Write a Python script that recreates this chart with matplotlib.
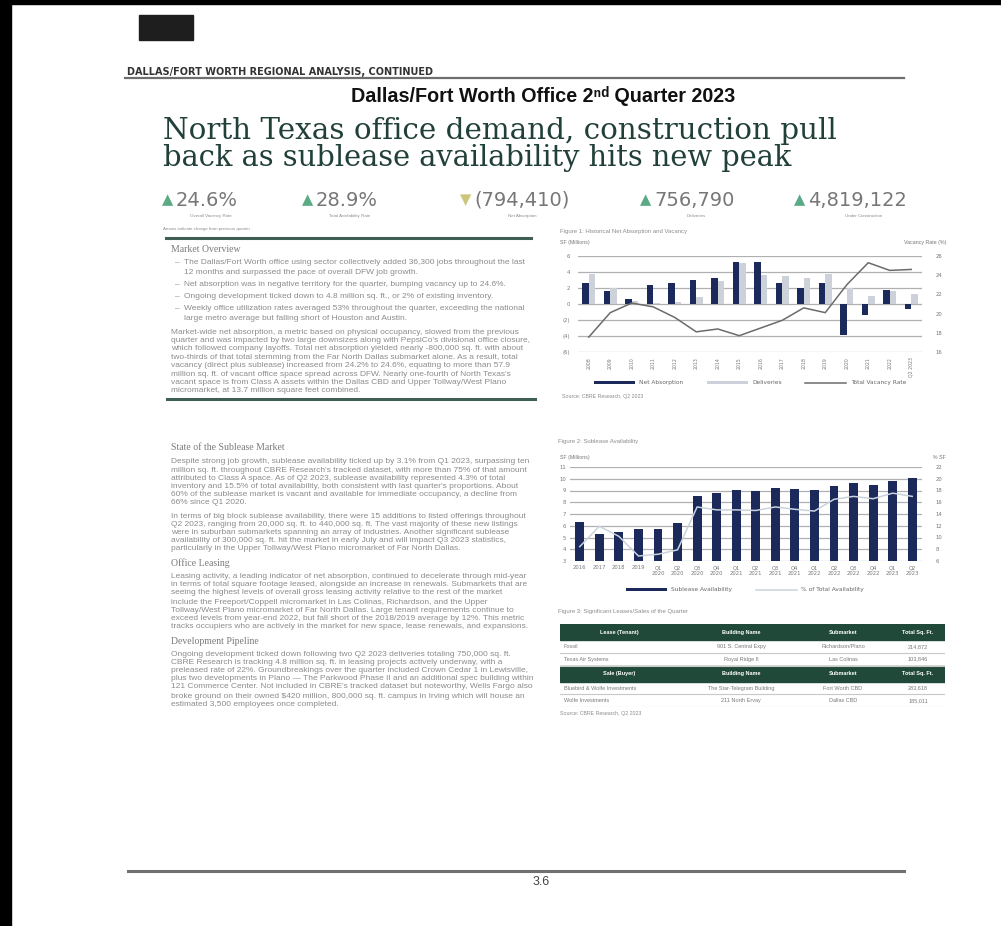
import matplotlib
matplotlib.use("Agg")
import matplotlib.pyplot as plt
from matplotlib.patches import Rectangle
from matplotlib.lines import Line2D
import numpy as np

W, H = 1001, 926

# ---- data ----
kpi_values = ["24.6%", "28.9%", "(794,410)", "756,790", "4,819,122"]
kpi_labels = ["Overall Vacancy Rate", "Total Availability Rate", "Net Absorption",
              "Deliveries", "Under Construction"]
kpi_up = [True, True, False, True, True]

fig1_years = ["2008", "2009", "2010", "2011", "2012", "2013", "2014", "2015",
              "2016", "2017", "2018", "2019", "2020", "2021", "2022", "Q2 2023"]
net_absorption = [2.6, 1.65, 0.6, 2.35, 2.65, 3.0, 3.2, 5.2,
                  5.2, 2.6, 1.95, 2.65, -3.9, -1.35, 1.7, -0.6]
deliveries = [3.8, 1.95, 0.4, 0.1, 0.3, 0.9, 2.85, 5.1,
              3.6, 3.5, 3.25, 3.7, 1.95, 1.05, 1.65, 1.2]
vacancy_rate = [17.55, 20.1, 21.1, 20.7, 19.6, 18.1, 18.4, 17.7,
                18.5, 19.3, 20.6, 20.1, 23.0, 25.3, 24.5, 24.6]

fig2_periods = ["2016", "2017", "2018", "2019", "Q1\n2020", "Q2\n2020", "Q3\n2020",
                "Q4\n2020", "Q1\n2021", "Q2\n2021", "Q3\n2021", "Q4\n2021", "Q1\n2022",
                "Q2\n2022", "Q3\n2022", "Q4\n2022", "Q1\n2023", "Q2\n2023"]
sublease_sf = [6.3, 5.3, 5.45, 5.7, 5.75, 6.2, 8.5, 8.8, 9.05,
               9.0, 9.2, 9.1, 9.05, 9.4, 9.65, 9.5, 9.85, 10.05]
sublease_pct = [8.45, 11.9, 10.2, 6.85, 7.15, 7.9, 15.2, 14.7, 14.7,
                14.6, 15.2, 14.8, 14.5, 16.5, 17.0, 16.6, 17.55, 17.0]

table_cols_lease = ["Lease (Tenant)", "Building Name", "Submarket", "Total Sq. Ft."]
table_cols_sale = ["Sale (Buyer)", "Building Name", "Submarket", "Total Sq. Ft."]
lease_rows = [["Fossil", "901 S. Central Expy", "Richardson/Plano", "214,872"],
              ["Texas Air Systems", "Royal Ridge II", "Las Colinas", "103,846"]]
sale_rows = [["Bluebird & Wolfe Investments", "The Star-Telegram Building", "Fort Worth CBD", "283,618"],
             ["Wolfe Investments", "211 North Ervay", "Dallas CBD", "185,011"]]

market_bullets = [
    ["The Dallas/Fort Worth office using sector collectively added 36,300 jobs throughout the last",
     "12 months and surpassed the pace of overall DFW job growth."],
    ["Net absorption was in negative territory for the quarter, bumping vacancy up to 24.6%."],
    ["Ongoing development ticked down to 4.8 million sq. ft., or 2% of existing inventory."],
    ["Weekly office utilization rates averaged 53% throughout the quarter, exceeding the national",
     "large metro average but falling short of Houston and Austin."],
]
market_para = [
    "Market-wide net absorption, a metric based on physical occupancy, slowed from the previous",
    "quarter and was impacted by two large downsizes along with PepsiCo's divisional office closure,",
    "which followed company layoffs. Total net absorption yielded nearly -800,000 sq. ft. with about",
    "two-thirds of that total stemming from the Far North Dallas submarket alone. As a result, total",
    "vacancy (direct plus sublease) increased from 24.2% to 24.6%, equating to more than 57.9",
    "million sq. ft. of vacant office space spread across DFW. Nearly one-fourth of North Texas's",
    "vacant space is from Class A assets within the Dallas CBD and Upper Tollway/West Plano",
    "micromarket, at 13.7 million square feet combined.",
]
sections = [
    ("State of the Sublease Market", 448, [
        ("Despite strong job growth, sublease availability ticked up by 3.1% from Q1 2023, surpassing ten", 462),
        ("million sq. ft. throughout CBRE Research's tracked dataset, with more than 75% of that amount", 470),
        ("attributed to Class A space. As of Q2 2023, sublease availability represented 4.3% of total", 478),
        ("inventory and 15.5% of total availability, both consistent with last quarter's proportions. About", 486),
        ("60% of the sublease market is vacant and available for immediate occupancy, a decline from", 494),
        ("66% since Q1 2020.", 502),
        ("In terms of big block sublease availability, there were 15 additions to listed offerings throughout", 516),
        ("Q2 2023, ranging from 20,000 sq. ft. to 440,000 sq. ft. The vast majority of these new listings", 524),
        ("were in suburban submarkets spanning an array of industries. Another significant sublease", 532),
        ("availability of 300,000 sq. ft. hit the market in early July and will impact Q3 2023 statistics,", 540),
        ("particularly in the Upper Tollway/West Plano micromarket of Far North Dallas.", 548)]),
    ("Office Leasing", 563, [
        ("Leasing activity, a leading indicator of net absorption, continued to decelerate through mid-year", 577),
        ("in terms of total square footage leased, alongside an increase in renewals. Submarkets that are", 585),
        ("seeing the highest levels of overall gross leasing activity relative to the rest of the market", 593),
        ("include the Freeport/Coppell micromarket in Las Colinas, Richardson, and the Upper", 602),
        ("Tollway/West Plano micromarket of Far North Dallas. Large tenant requirements continue to", 610),
        ("exceed levels from year-end 2022, but fall short of the 2018/2019 average by 12%. This metric", 618),
        ("tracks occupiers who are actively in the market for new space, lease renewals, and expansions.", 627)]),
    ("Development Pipeline", 641, [
        ("Ongoing development ticked down following two Q2 2023 deliveries totaling 750,000 sq. ft.", 655),
        ("CBRE Research is tracking 4.8 million sq. ft. in leasing projects actively underway, with a", 663),
        ("preleased rate of 22%. Groundbreakings over the quarter included Crown Cedar 1 in Lewisville,", 671),
        ("plus two developments in Plano \u2014 The Parkwood Phase II and an additional spec building within", 679),
        ("121 Commerce Center. Not included in CBRE's tracked dataset but noteworthy, Wells Fargo also", 687),
        ("broke ground on their owned $420 million, 800,000 sq. ft. campus in Irving which will house an", 696),
        ("estimated 3,500 employees once completed.", 704)]),
]

NAVY = "#1b2a5a"
LIGHT = "#cdd2da"
GREEN = "#21493a"
TXT = "#8c8c8c"
BODY = "Liberation Sans"

fig = plt.figure(figsize=(W / 100, H / 100), dpi=100)
fig.patch.set_facecolor("white")
renderer = fig.canvas.get_renderer()


def fx(x):
    return x / W


def fy(y):
    return 1 - y / H


def txt(x, y, s, **kw):
    kw.setdefault("va", "center")
    return fig.text(fx(x), fy(y), s, **kw)


def fit(t, width):
    w = t.get_window_extent(renderer=renderer).width
    t.set_fontsize(t.get_fontsize() * width / w)
    return t.get_fontsize()


def hline(x0, x1, y, color, lw):
    fig.add_artist(Line2D([fx(x0), fx(x1)], [fy(y), fy(y)], color=color, lw=lw,
                          transform=fig.transFigure))


# page frame: black scan edges and the redaction box
fig.add_artist(Rectangle((0, 0), fx(11), 1, color="black", transform=fig.transFigure))
fig.add_artist(Rectangle((0, fy(4)), 1, 4 / H, color="black", transform=fig.transFigure))
fig.add_artist(Rectangle((fx(139), fy(40)), 54 / W, 25 / H, color="#1e1e1e",
                         transform=fig.transFigure))

# header
t = txt(127, 72, "DALLAS/FORT WORTH REGIONAL ANALYSIS, CONTINUED", fontsize=5.3,
        fontweight="bold", color="#333333", family="DejaVu Sans")
fit(t, 305)
hline(125, 904, 78, "#6e6e6e", 1.6)
t = txt(543, 96, "Dallas/Fort Worth Office 2\u207f\u1d48 Quarter 2023", fontsize=11,
        fontweight="bold", ha="center", color="#111111", family=["Liberation Sans", "DejaVu Sans"])
fit(t, 385)
t = txt(163, 131, "North Texas office demand, construction pull", fontsize=20,
        color="#22403a", family="DejaVu Serif")
fit(t, 672)
t = txt(163, 158, "back as sublease availability hits new peak", fontsize=20,
        color="#22403a", family="DejaVu Serif")
fit(t, 627)

# KPI row
kpi_x = [168, 308, 466, 646, 800]
kpi_w = [70, 67, 96, 84, 112]
for x, w, v, lab, up in zip(kpi_x, kpi_w, kpi_values, kpi_labels, kpi_up):
    txt(x, 200, "\u25B2" if up else "\u25BC", fontsize=10.5, ha="center",
        color="#5aaa86" if up else "#cbc67a", family="DejaVu Sans")
    txt(x + 8, 200, v, fontsize=14, color="#777777", family="DejaVu Sans")
    txt(x + 8 + w / 2, 216, lab, fontsize=3.2, ha="center", color=TXT, family=BODY)

# left text column
txt(163, 229, "Arrows indicate change from previous quarter", fontsize=3.2, color=TXT, family=BODY)
hline(166, 531, 238, "#3f5f52", 2.2)
txt(171, 250, "Market Overview", fontsize=7, color="#7a7a7a", family="Liberation Serif")

# body font size fitted so a full line spans the column
probe = txt(171, 332, market_para[0], fontsize=5, color=TXT, family=BODY)
body_fs = fit(probe, 350)
for i, line in enumerate(market_para[1:], start=1):
    txt(171, 332 + i * 8.4, line, fontsize=body_fs, color=TXT, family=BODY)
y = 263
for b in market_bullets:
    txt(175, y, "\u2013", fontsize=body_fs, color=TXT, family=BODY)
    for line in b:
        txt(184, y, line, fontsize=body_fs, color=TXT, family=BODY)
        y += 9.5
    y += 2.5
hline(167, 535, 399, "#3f5f52", 2.2)

for head, hy, lines in sections:
    txt(171, hy, head, fontsize=7, color="#7a7a7a", family="Liberation Serif")
    for line, ly in lines:
        txt(171, ly, line, fontsize=body_fs, color=TXT, family=BODY)

# ---- Figure 1 ----
txt(560, 232, "Figure 1: Historical Net Absorption and Vacancy", fontsize=4.3, color=TXT, family=BODY)
txt(560, 243, "SF (Millions)", fontsize=3.8, color="#777777", family=BODY)
txt(946, 243, "Vacancy Rate (%)", fontsize=3.8, color="#777777", ha="right", family=BODY)

ax1 = fig.add_axes([fx(578), fy(352), 344 / W, 96 / H])
x1 = np.arange(len(fig1_years))
bw = 0.3
ax1.bar(x1 - bw / 2, net_absorption, bw, color=NAVY, zorder=3, label="Net Absorption")
ax1.bar(x1 + bw / 2, deliveries, bw, color=LIGHT, zorder=3, label="Deliveries")
ax1.set_xlim(-0.5, len(fig1_years) - 0.5)
ax1.set_ylim(-6, 6)
ax1.set_yticks([6, 4, 2, 0, -2, -4, -6])
ax1.set_yticklabels(["6", "4", "2", "0", "(2)", "(4)", "(6)"])
ax1.set_xticks(x1)
ax1.set_xticklabels(fig1_years, rotation=90)
ax1.grid(axis="y", color="#b0b0b0", lw=0.9, zorder=0)
ax1.tick_params(axis="y", length=0, labelsize=3.8, labelcolor="#777777", pad=6)
ax1.tick_params(axis="x", length=0, labelsize=3.3, labelcolor="#777777", pad=4)
for s in ax1.spines.values():
    s.set_visible(False)
ax1b = ax1.twinx()
ax1b.plot(x1, vacancy_rate, color="#6b6b6b", lw=1.1, zorder=4, label="Total Vacancy Rate")
ax1b.set_ylim(16, 26)
ax1b.set_yticks([26, 24, 22, 20, 18, 16])
ax1b.tick_params(length=0, labelsize=3.8, labelcolor="#777777", pad=10)
for s in ax1b.spines.values():
    s.set_visible(False)
h1 = ax1.get_legend_handles_labels()
h2 = ax1b.get_legend_handles_labels()
fig.legend(h1[0] + h2[0], h1[1] + h2[1], loc="center", bbox_to_anchor=(fx(750), fy(383)),
           ncol=3, frameon=False, fontsize=4.2, handlelength=7, handleheight=0.5,
           columnspacing=4, labelcolor="#666666")
txt(562, 396, "Source: CBRE Research, Q2 2023", fontsize=3.8, color=TXT, family=BODY)

# ---- Figure 2 ----
txt(558, 441, "Figure 2: Sublease Availability", fontsize=4.3, color=TXT, family=BODY)
txt(560, 457, "SF (Millions)", fontsize=3.8, color="#777777", family=BODY)
txt(946, 457, "% SF", fontsize=3.8, color="#777777", ha="right", family=BODY)
ax2 = fig.add_axes([fx(570), fy(561), 352 / W, 94 / H])
x2 = np.arange(len(fig2_periods))
ax2.bar(x2, sublease_sf, 0.45, color=NAVY, zorder=3, label="Sublease Availability")
ax2.set_xlim(-0.5, len(fig2_periods) - 0.5)
ax2.set_ylim(3, 11)
ax2.set_yticks(range(3, 12))
ax2.set_xticks(x2)
ax2.set_xticklabels(fig2_periods, linespacing=1.1)
ax2.grid(axis="y", color="#b0b0b0", lw=0.9, zorder=0)
ax2.tick_params(length=0, labelsize=3.8, labelcolor="#777777", pad=3)
for s in ax2.spines.values():
    s.set_visible(False)
ax2b = ax2.twinx()
ax2b.plot(x2, sublease_pct, color="#c9d3dd", lw=1.1, zorder=4, label="% of Total Availability")
ax2b.set_ylim(6, 22)
ax2b.set_yticks(range(6, 23, 2))
ax2b.tick_params(length=0, labelsize=3.8, labelcolor="#777777", pad=10)
for s in ax2b.spines.values():
    s.set_visible(False)
h1 = ax2.get_legend_handles_labels()
h2 = ax2b.get_legend_handles_labels()
fig.legend(h1[0] + h2[0], h1[1] + h2[1], loc="center", bbox_to_anchor=(fx(745), fy(590)),
           ncol=2, frameon=False, fontsize=4.2, handlelength=7, handleheight=0.5,
           columnspacing=4, labelcolor="#666666")

# ---- Figure 3 table ----
txt(558, 612, "Figure 3: Significant Leases/Sales of the Quarter", fontsize=4.3, color=TXT, family=BODY)
ax3 = fig.add_axes([fx(560), fy(707), 385 / W, 83 / H])
ax3.axis("off")
blocks = [(table_cols_lease, lease_rows), (table_cols_sale, sale_rows)]
row_h = {"head": 1.3, "row": 1.0}
total = sum(row_h["head"] + row_h["row"] * len(r) for _, r in blocks)
ax3.set_xlim(0, 1)
ax3.set_ylim(total, 0)
col_x = [0.01, 0.47, 0.735, 0.93]
head_x = [0.155, 0.47, 0.735, 0.93]
yy = 0
for cols, rows in blocks:
    ax3.add_patch(Rectangle((0, yy), 1, row_h["head"], color=GREEN))
    for cx, c in zip(head_x, cols):
        ax3.text(cx, yy + row_h["head"] / 2, c, ha="center", va="center", fontsize=4,
                 fontweight="bold", color="white", family=BODY)
    yy += row_h["head"]
    for r in rows:
        for j, (cx, c) in enumerate(zip(col_x, r)):
            ax3.text(cx, yy + row_h["row"] / 2, c, ha="left" if j == 0 else "center",
                     va="center", fontsize=4, color="#7a7a7a", family=BODY)
        yy += row_h["row"]
        ax3.axhline(yy, color="#c8c8c8", lw=0.8)
txt(560, 714, "Source: CBRE Research, Q2 2023", fontsize=3.8, color=TXT, family=BODY)

# footer
hline(128, 904, 871, "#707070", 2.2)
txt(541, 882, "3.6", fontsize=9, ha="center", color="#444444", family=BODY)

fig.savefig("out.png", dpi=100, facecolor="white")
